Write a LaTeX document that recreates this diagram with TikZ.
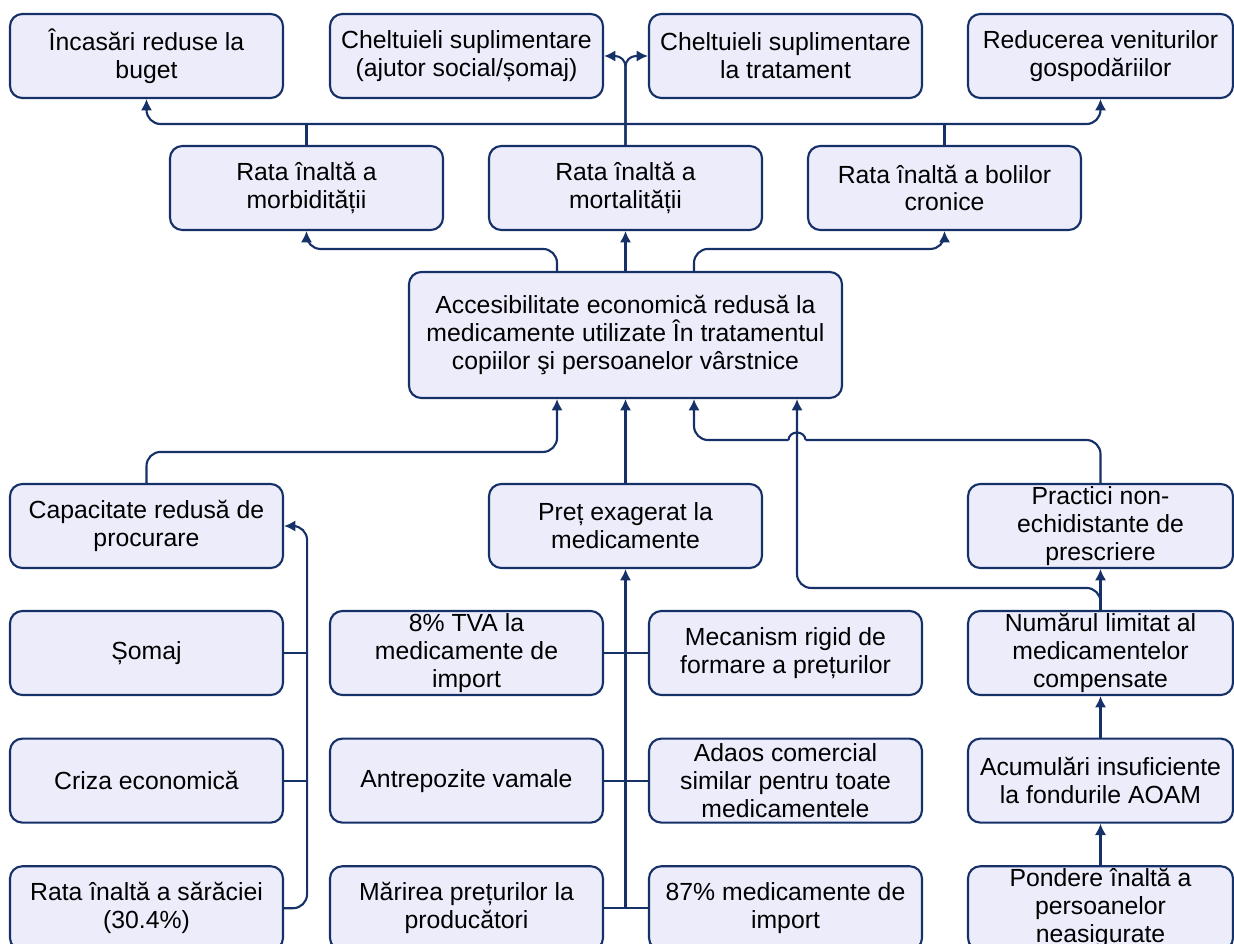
\documentclass[tikz,border=0pt]{standalone}
\usepackage{fontspec}
\setmainfont{Liberation Sans}
\usetikzlibrary{arrows.meta, positioning}
\definecolor{boxnavy}{RGB}{22,48,104}
\definecolor{boxfill}{RGB}{236,236,251}

\begin{document}
\begin{tikzpicture}[
  box/.style={rectangle, rounded corners=7pt, draw=boxnavy, line width=1.2pt, fill=boxfill, minimum width=5.46cm, minimum height=1.68cm, inner ysep=0.5pt, align=center, font=\fontsize{14.1}{15.9}\selectfont},
  rbox/.style={box, minimum width=5.30cm},
  arrow/.style={-{Latex[length=6.5pt,width=6.5pt]}, line width=1.2pt, boxnavy},
  both/.style={{Latex[length=6.5pt,width=6.5pt]}-{Latex[length=6.5pt,width=6.5pt]}, line width=1.2pt, boxnavy},
  line/.style={line width=1.2pt, boxnavy},
]
  \clip (0,0) rectangle (24.68,-18.88);

  % consequences
  \node[box] (budget) at (2.93,-1.12) {Încasări reduse la\\buget};
  \node[box] (socexp) at (9.33,-1.12) {Cheltuieli suplimentare\\(ajutor social/șomaj)};
  \node[box] (treatexp) at (15.71,-1.12) {Cheltuieli suplimentare\\la tratament};
  \node[rbox] (revhh) at (22.01,-1.12) {Reducerea veniturilor\\gospodăriilor};

  \node[box] (morb) at (6.13,-3.76) {Rata înaltă a\\morbidității};
  \node[box] (mortal) at (12.51,-3.76) {Rata înaltă a\\mortalității};
  \node[box] (chronic) at (18.89,-3.76) {Rata înaltă a bolilor\\cronice};

  % central problem
  \node[box, minimum width=8.66cm, minimum height=2.52cm] (access) at (12.51,-6.70)
    {Accesibilitate economică redusă la\\medicamente utilizate În tratamentul\\copiilor şi persoanelor vârstnice};

  % causes
  \node[box] (capacity) at (2.93,-10.52) {Capacitate redusă de\\procurare};
  \node[box] (price) at (12.51,-10.52) {Preț exagerat la\\medicamente};
  \node[rbox] (practices) at (22.01,-10.52) {Practici non-\\echidistante de\\prescriere};

  \node[box] (unemp) at (2.93,-13.06) {Șomaj};
  \node[box, below=0.83cm of unemp] (crisis) {Criza economică};
  \node[box, below=0.83cm of crisis] (poverty) {Rata înaltă a sărăciei\\(30.4\%)};

  \node[box] (vat) at (9.33,-13.06) {8\% TVA la\\medicamente de\\import};
  \node[box, below=0.83cm of vat] (customs) {Antrepozite vamale};
  \node[box, below=0.83cm of customs] (producer) {Mărirea prețurilor la\\producători};

  \node[box] (rigid) at (15.71,-13.06) {Mecanism rigid de\\formare a prețurilor};
  \node[box, below=0.83cm of rigid] (margin) {Adaos comercial\\similar pentru toate\\medicamentele};
  \node[box, below=0.83cm of margin] (imports) {87\% medicamente de\\import};

  \node[rbox] (limited) at (22.01,-13.06) {Numărul limitat al\\medicamentelor\\compensate};
  \node[rbox, below=0.83cm of limited] (funds) {Acumulări insuficiente\\la fondurile AOAM};
  \node[rbox, below=0.83cm of funds] (uninsured) {Pondere înaltă a\\persoanelor\\neasigurate};

  \coordinate (topbus) at (0,-2.48);
  \coordinate (jump) at ([xshift=3.43cm]access.south |- 0,-8.80);

  % upper connectors
  \draw[both, rounded corners=8pt] (budget.south) |- (topbus -| revhh.south) -- (revhh.south);
  \draw[line] (morb.north) -- (morb.north |- topbus);
  \draw[line] (chronic.north) -- (chronic.north |- topbus);
  \draw[arrow, rounded corners=6pt] (mortal.north) |- (socexp.east);
  \draw[arrow, rounded corners=6pt] (mortal.north) |- (treatexp.west);

  \draw[arrow, rounded corners=8pt] ([xshift=-1.37cm]access.north) -- ++(0,0.44) -| (morb.south);
  \draw[arrow] (access.north) -- (mortal.south);
  \draw[arrow, rounded corners=8pt] ([xshift=1.37cm]access.north) -- ++(0,0.44) -| (chronic.south);

  % lower connectors
  \draw[line, rounded corners=8pt] (practices.north) |- ([xshift=0.17cm]jump);
  \draw[line] ([xshift=0.17cm]jump) arc[start angle=0, end angle=180, x radius=0.17cm, y radius=0.15cm];
  \draw[arrow, rounded corners=8pt] ([xshift=-0.17cm]jump) -| ([xshift=1.37cm]access.south);
  \draw[arrow, rounded corners=8pt] (limited.north) -- ++(0,0.44) -| (jump |- access.south);
  \draw[arrow, rounded corners=8pt] (capacity.north) -- ++(0,0.62) -| ([xshift=-1.37cm]access.south);
  \draw[arrow] (price.north) -- (access.south);
  \draw[arrow] (limited.north) -- (practices.south);
  \draw[arrow] (funds.north) -- (limited.south);
  \draw[arrow] (uninsured.north) -- (funds.south);

  \draw[arrow, rounded corners=8pt] (poverty.east) -- ++(0.46,0) |- (capacity.east);
  \draw[line] (unemp.east) -- ++(0.46,0);
  \draw[line] (crisis.east) -- ++(0.46,0);

  \draw[arrow] (price.south |- producer.east) -- (price.south);
  \draw[line] (vat.east) -- (rigid.west);
  \draw[line] (customs.east) -- (margin.west);
  \draw[line] (producer.east) -- (imports.west);
\end{tikzpicture}
\end{document}
